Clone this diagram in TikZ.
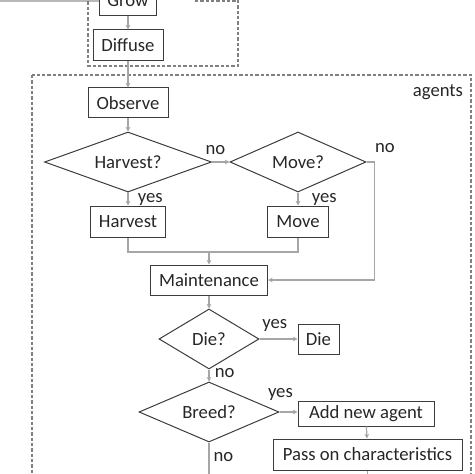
\documentclass[tikz,border=0pt]{standalone}
\usepackage{fontspec}
\setmainfont{Carlito}
\usetikzlibrary{arrows.meta,shapes.geometric}
\newlength\pxu
\setlength\pxu{0.75pt}
\definecolor{boxline}{HTML}{3C3C3C}
\definecolor{flowline}{HTML}{A6A6A6}
\definecolor{frameline}{HTML}{808080}
\tikzset{%
  >={Stealth[width=3.5pt,length=3.5pt]},
  % Specifications for style of nodes:
        base/.style = {draw=boxline, line width=0.75pt, text=black!85,
                       font=\fontsize{14}{16}\selectfont, inner sep=0pt},
     process/.style = {base, rectangle},
    decision/.style = {base, diamond, aspect=2},
         tag/.style = {font=\fontsize{14}{16}\selectfont, text=black!85, inner sep=0pt},
       frame/.style = {draw=frameline, line width=1pt, dash pattern=on 2.4pt off 1.6pt},
        flow/.style = {draw=flowline, line width=0.9pt},
}

\begin{document}
\begin{tikzpicture}[x=0.75pt, y=-0.75pt]
  \clip (0,0) rectangle (474,474);
  % Frames round the two groups
  \draw[flowline!80, line width=1.8pt] (0,1) -- (100,1);
  \draw[frame] (88,-20) rectangle (238,66);
  \draw[frame] (195,1) -- (236,1);
  \draw[frame] (32,75) rectangle (471,520);
  \node (agentstag)   [tag] at (438,92) {agents};

  % Specification of nodes (position, etc.)
  \node (grow)        [process, minimum width=57\pxu, minimum height=30\pxu] at (128,1) {Grow};
  \node (diffuse)     [process, minimum width=70\pxu, minimum height=31\pxu] at (128,45.5) {Diffuse};
  \node (observe)     [process, minimum width=80\pxu, minimum height=30\pxu] at (128,103) {Observe};
  \node (harvestq)    [decision, minimum width=167\pxu, minimum height=60\pxu] at (128,162) {Harvest?};
  \node (moveq)       [decision, minimum width=136\pxu, minimum height=60\pxu] at (298,162) {Move?};
  \node (harvest)     [process, minimum width=75\pxu, minimum height=31\pxu] at (128,221.5) {Harvest};
  \node (move)        [process, minimum width=61\pxu, minimum height=31\pxu] at (298,221.5) {Move};
  \node (maint)       [process, minimum width=117\pxu, minimum height=30\pxu] at (209,280) {Maintenance};
  \node (dieq)        [decision, minimum width=100\pxu, minimum height=60\pxu] at (209,339) {Die?};
  \node (die)         [process, minimum width=41\pxu, minimum height=30\pxu] at (318.5,339) {Die};
  \node (breedq)      [decision, minimum width=140\pxu, minimum height=60\pxu] at (209,412) {Breed?};
  \node (addagent)    [process, minimum width=136\pxu, minimum height=25\pxu] at (366,413.5) {Add new agent};
  \node (passon)      [process, minimum width=189\pxu, minimum height=31\pxu] at (367.5,454.5) {Pass on characteristics};
  \coordinate (join)     at (209,252);
  \coordinate (breedout) at (209,490);
  \coordinate (passout)  at (367.5,490);

  \draw[flow,->]  (grow) -- (diffuse);
  \draw[flow,->]  (diffuse) -- (observe);
  \draw[flow,->]  (observe) -- (harvestq);
  \draw[flow,->]  (harvestq) -- (moveq) node[tag, pos=0.2, above=5pt] {no};
  \draw[flow,->]  (harvestq) -- (harvest) node[tag, midway, right=7pt] {yes};
  \draw[flow,->]  (moveq) -- (move) node[tag, midway, right=10pt] {yes};
  \draw[flow,->]  (moveq.east) -- ++(8,0) node[tag, anchor=west, yshift=10.5pt] {no} |- (maint.east);
  \draw[flow]     (harvest.south) |- (join) -| (move.south);
  \draw[flow,->]  (join) -- (maint);
  \draw[flow,->]  (maint) -- (dieq);
  \draw[flow,->]  (dieq) -- (die) node[tag, pos=0.4, above=5pt] {yes};
  \draw[flow,->]  (dieq) -- (breedq) node[tag, pos=0.3, right=4pt] {no};
  \draw[flow,->]  (breedq) -- (addagent.west |- breedq) node[tag, pos=0.05, above=8pt] {yes};
  \draw[flow,->]  (addagent) -- (passon);
  \draw[flow]     (passon) -- (passout);
  \draw[flow]     (breedq) -- (breedout) node[tag, pos=0.3, right=3pt] {no};

\end{tikzpicture}
\end{document}
